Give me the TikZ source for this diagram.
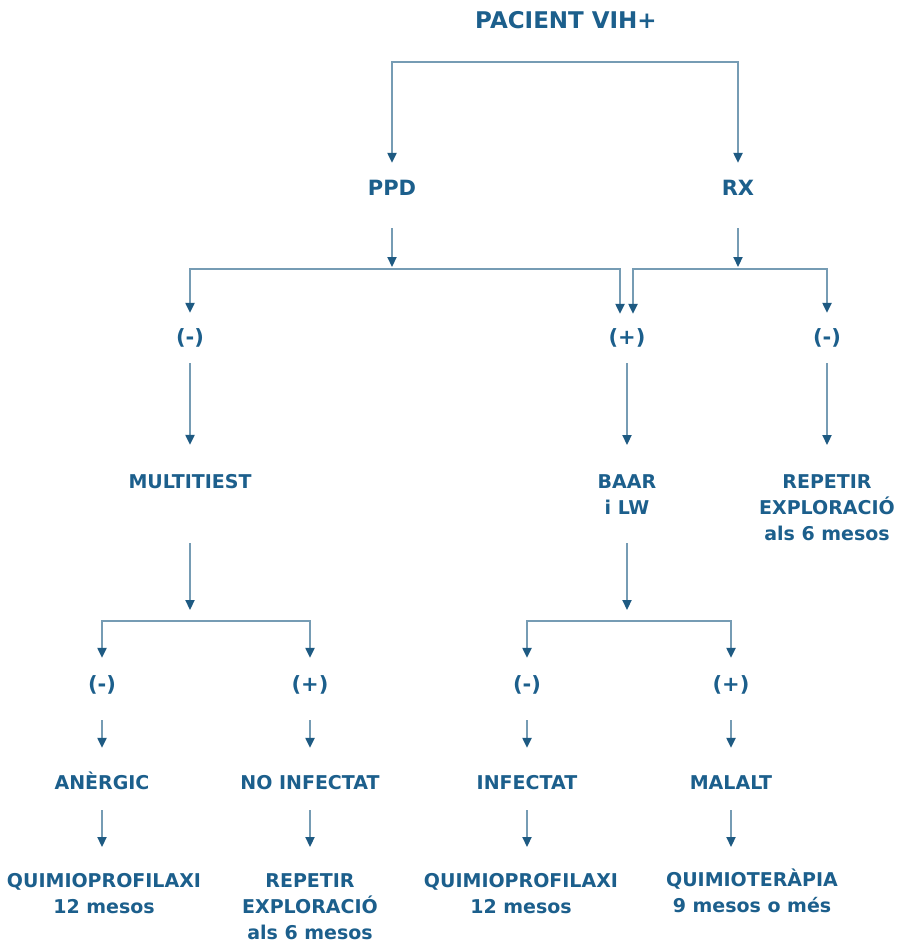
\documentclass[tikz,border=0pt]{standalone}
\usepackage{fontspec}
\setmainfont{DejaVu Sans}
\usetikzlibrary{arrows.meta}
\definecolor{txt}{RGB}{28,95,140}
\definecolor{lin}{RGB}{118,156,180}
\definecolor{tipc}{RGB}{30,90,130}
\begin{document}
\begin{tikzpicture}[x=1pt,y=-1pt,
  lbl/.style={font=\fontsize{19}{26}\selectfont\bfseries,text=txt,inner sep=0pt,align=center},
  one/.style={lbl,text height=14pt,text depth=0pt},
  sgn/.style={one,font=\fontsize{21}{26}\selectfont\bfseries},
  ln/.style={draw=lin,line width=2.2pt},
  ar/.style={ln,-{Triangle[width=9pt,length=10pt,color=tipc]}}]
\useasboundingbox[fill=white](0,0)rectangle(901,946);
\node[one,font=\fontsize{23}{26}\selectfont\bfseries,text height=16pt] (pac) at (566,20) {PACIENT VIH+};
\node[sgn] (ppd) at (392,188) {PPD};
\node[sgn] (rx) at (738,188) {RX};
\node[sgn] (m1) at (190,337) {(-)};
\node[sgn] (p1) at (627,337) {(+)};
\node[sgn] (m2) at (827,337) {(-)};
\node[one] (mul) at (190,481) {MULTITIEST};
\node[lbl,anchor=north] (baar) at (627,474) {BAAR\\i LW};
\node[lbl,anchor=north] (rep1) at (827,474) {REPETIR\\EXPLORACIÓ\\als 6 mesos};
\node[sgn] (m3) at (102,684) {(-)};
\node[sgn] (p3) at (310,684) {(+)};
\node[sgn] (m4) at (527,684) {(-)};
\node[sgn] (p4) at (731,684) {(+)};
\node[one] (aner) at (102,782) {ANÈRGIC};
\node[one] (noinf) at (310,782) {NO INFECTAT};
\node[one] (inf) at (527,782) {INFECTAT};
\node[one] (mal) at (731,782) {MALALT};
\node[lbl,anchor=north] (q1) at (104,873) {QUIMIOPROFILAXI\\12 mesos};
\node[lbl,anchor=north] (rep2) at (310,873) {REPETIR\\EXPLORACIÓ\\als 6 mesos};
\node[lbl,anchor=north] (q3) at (521,873) {QUIMIOPROFILAXI\\12 mesos};
\node[lbl,anchor=north] (q4) at (752,869) {QUIMIOTERÀPIA\\9 mesos o més};
\coordinate (tb) at (564,62);
\coordinate (lb) at (392,269);
\coordinate (rb) at (738,269);
\coordinate (b2) at (190,621);
\coordinate (b3) at (627,621);
\draw[ar,shorten >=18pt] (tb) -| (ppd);
\draw[ar,shorten >=18pt] (tb) -| (rx);
\draw[ar,shorten <=33pt,shorten >=2pt] (ppd) -- (lb);
\draw[ar,shorten <=33pt,shorten >=2pt] (rx) -- (rb);
\draw[ar,shorten >=17pt] (lb) -| (m1);
\draw[ar,shorten >=16pt] (lb) -| ([xshift=-7pt]p1.north);
\draw[ar,shorten >=16pt] (rb) -| ([xshift=6pt]p1.north);
\draw[ar,shorten >=17pt] (rb) -| (m2);
\draw[ar,shorten <=19pt,shorten >=29pt] (m1) -- (mul);
\draw[ar,shorten <=19pt,shorten >=29pt] (p1) -- (baar);
\draw[ar,shorten <=19pt,shorten >=29pt] (m2) -- (rep1);
\draw[ar,shorten <=55pt,shorten >=11pt] (mul) -- (b2);
\draw[ar,shorten <=29pt,shorten >=11pt] (baar) -- (b3);
\draw[ar,shorten >=19pt] (b2) -| (m3);
\draw[ar,shorten >=19pt] (b2) -| (p3);
\draw[ar,shorten >=19pt] (b3) -| (m4);
\draw[ar,shorten >=19pt] (b3) -| (p4);
\draw[ar,shorten <=29pt,shorten >=27pt] (m3) -- (aner);
\draw[ar,shorten <=29pt,shorten >=27pt] (p3) -- (noinf);
\draw[ar,shorten <=29pt,shorten >=27pt] (m4) -- (inf);
\draw[ar,shorten <=29pt,shorten >=27pt] (p4) -- (mal);
\draw[ar,shorten <=21pt,shorten >=26pt] (aner) -- (aner |- q1.north);
\draw[ar,shorten <=21pt,shorten >=26pt] (noinf) -- (noinf |- rep2.north);
\draw[ar,shorten <=21pt,shorten >=26pt] (inf) -- (inf |- q3.north);
\draw[ar,shorten <=21pt,shorten >=22pt] (mal) -- (mal |- q4.north);
\end{tikzpicture}
\end{document}
